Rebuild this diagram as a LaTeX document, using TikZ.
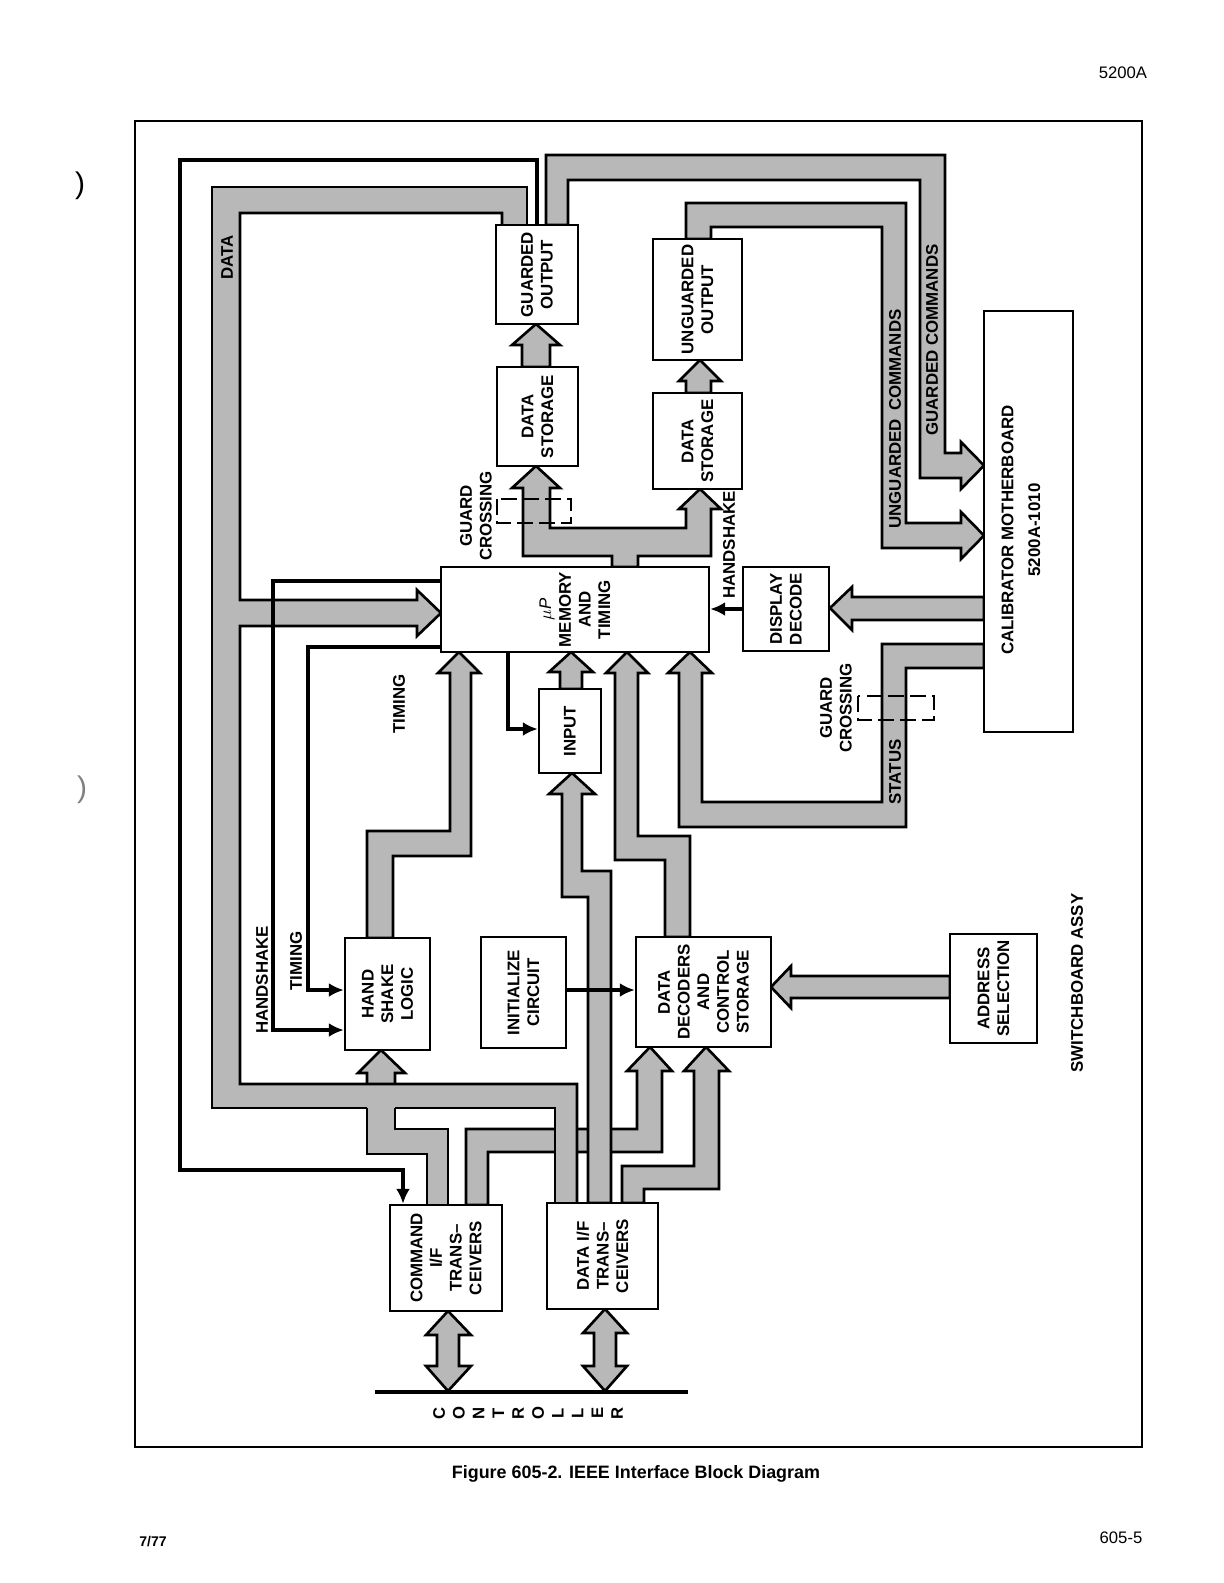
\documentclass[tikz,border=0pt]{standalone}
\usepackage{fontspec}
\setmainfont{Liberation Sans}
\usetikzlibrary{arrows.meta, fit}

\colorlet{busgray}{black!28}
\tikzset{
  blk/.style={draw, line width=1.4pt, fill=white, inner sep=0pt},
  txt/.style={font=\fontsize{9.6}{11.2}\selectfont\bfseries, rotate=90, align=center, inner sep=0pt},
  ctl/.style={font=\fontsize{9.5}{10}\selectfont\bfseries, rotate=90, inner sep=0pt},
  bus/.style={draw, fill=busgray, line width=1.5pt, line join=miter},
  busedge/.style={draw, line width=1.5pt, line join=miter},
  sig/.style={line width=1.9pt, -{Latex[length=0.3cm, width=0.28cm]}},
  guard/.style={draw, line width=1.2pt, dash pattern=on 9pt off 3.5pt},
}

\begin{document}
\begin{tikzpicture}[x=0.02cm, y=-0.02cm]
\useasboundingbox (0,0) rectangle (1224,1583);

% Marco
\draw[line width=1.4pt] (135,121) rectangle (1142,1447);

% Buses que pasan por debajo
\draw[bus] (466,1205) -- (466,1129) -- (637,1129) -- (637,1071) -- (627,1071) -- (650,1047) -- (672,1071) -- (662,1071) -- (662,1152) -- (488,1152) -- (488,1205) -- cycle;
\draw[bus] (622,1203) -- (622,1166) -- (694,1166) -- (694,1071) -- (684,1071) -- (706,1047) -- (729,1071) -- (719,1071) -- (719,1189) -- (644,1189) -- (644,1203) -- cycle;

% Bus DATA
\fill[busgray] (502,225) -- (502,213) -- (240,213) -- (240,600) -- (417,600) -- (417,590) -- (441,613) -- (417,636) -- (417,626) -- (240,626) -- (240,1084) -- (577,1084) -- (577,1203) -- (555,1203) -- (555,1108) -- (212,1108) -- (212,187) -- (527,187) -- (527,225) -- cycle;
\fill[busgray] (427,1205) -- (427,1154) -- (367,1154) -- (367,1100) -- (395,1100) -- (395,1129) -- (448,1129) -- (448,1205) -- cycle;
\fill[busgray] (367,1090) -- (367,1073) -- (358,1073) -- (381,1050) -- (405,1073) -- (395,1073) -- (395,1090) -- cycle;
\draw[busedge] (527,225) -- (527,187) -- (212,187) -- (212,1108) -- (367,1108);
\draw[busedge] (395,1108) -- (555,1108) -- (555,1203);
\draw[busedge] (502,225) -- (502,213) -- (240,213) -- (240,600) -- (417,600) -- (417,590) -- (441,613) -- (417,636) -- (417,626) -- (240,626) -- (240,1084) -- (577,1084) -- (577,1203);
\draw[busedge] (427,1205) -- (427,1154) -- (367,1154) -- (367,1108);
\draw[busedge] (395,1108) -- (395,1129) -- (448,1129) -- (448,1205);
\draw[busedge] (367,1084) -- (367,1073) -- (358,1073) -- (381,1050) -- (405,1073) -- (395,1073) -- (395,1084);

% Buses de comandos
\draw[bus] (546,225) -- (546,155) -- (945,155) -- (945,453) -- (961,453) -- (961,442) -- (984,465.5) -- (961,489) -- (961,478) -- (920,478) -- (920,180) -- (568,180) -- (568,225) -- cycle;
\draw[bus] (686,239) -- (686,203) -- (906,203) -- (906,523) -- (961,523) -- (961,512) -- (984,535.5) -- (961,559) -- (961,548) -- (882,548) -- (882,227) -- (711,227) -- (711,239) -- cycle;

% Salidas
\draw[bus] (522,367) -- (522,345) -- (512,345) -- (536,324) -- (560,345) -- (550,345) -- (550,367) -- cycle;
\draw[bus] (686,393) -- (686,381) -- (679,381) -- (700,360) -- (721,381) -- (711,381) -- (711,393) -- cycle;
\draw[bus] (612,567) -- (612,556) -- (523,556) -- (523,488) -- (512,488) -- (536,466) -- (560,488) -- (550,488) -- (550,528) -- (686,528) -- (686,509) -- (679,509) -- (700,489) -- (721,509) -- (711,509) -- (711,556) -- (638,556) -- (638,567) -- cycle;

% Entradas al microprocesador
\draw[bus] (588,1203) -- (588,897) -- (562,897) -- (562,794) -- (549,794) -- (572,773) -- (595,794) -- (582,794) -- (582,871) -- (611,871) -- (611,1203) -- cycle;
\draw[bus] (560,689) -- (560,672) -- (549,672) -- (571,652) -- (593,672) -- (582,672) -- (582,689) -- cycle;
\draw[bus] (665,937) -- (665,860) -- (615,860) -- (615,673) -- (606,673) -- (627,652) -- (648,673) -- (638,673) -- (638,836) -- (690,836) -- (690,937) -- cycle;
\draw[bus] (984,644) -- (882,644) -- (882,802) -- (702,802) -- (702,673) -- (712,673) -- (690,652) -- (668,673) -- (679,673) -- (679,827) -- (906,827) -- (906,668) -- (984,668) -- cycle;
\draw[bus] (367,938) -- (367,831) -- (450,831) -- (450,673) -- (438,673) -- (459,652) -- (480,673) -- (471,673) -- (471,856) -- (393,856) -- (393,938) -- cycle;
\draw[bus] (984,597) -- (852,597) -- (852,587) -- (830,608) -- (852,630) -- (852,620) -- (984,620) -- cycle;
\draw[bus] (950,976) -- (791,976) -- (791,966) -- (771,987) -- (791,1008) -- (791,998) -- (950,998) -- cycle;

% Controlador
\coordinate (ctlL) at (375,1392);
\coordinate (ctlR) at (688,1392);
\draw[line width=2.6pt] (ctlL) -- (ctlR);
\draw[bus] (448,1311) -- (471,1335) -- (459,1335) -- (459,1366) -- (471,1366) -- (448,1391) -- (426,1366) -- (437,1366) -- (437,1335) -- (426,1335) -- cycle;
\draw[bus] (605,1309) -- (627,1333) -- (616,1333) -- (616,1366) -- (627,1366) -- (605,1391) -- (583,1366) -- (594,1366) -- (594,1333) -- (583,1333) -- cycle;
\foreach \c [count=\i from 0] in {C,O,N,T,R,O,L,L,E,R}
  \node[ctl] (ctl\i) at ({439+19.8*\i},1413) {\c};

% Bloques
\node[blk, fit={(496,225) (578,324)}] (go) {};
\node[blk, fit={(497,367) (578,466)}] (dsg) {};
\node[blk, fit={(653,239) (742,360)}] (uo) {};
\node[blk, fit={(653,393) (742,489)}] (dsu) {};
\node[blk, fit={(441,567) (709,652)}] (mem) {};
\node[blk, fit={(743,567) (829,651)}] (dd) {};
\node[blk, fit={(984,311) (1073,732)}] (mb) {};
\node[blk, fit={(539,689) (601,773)}] (inp) {};
\node[blk, fit={(345,938) (430,1050)}] (hsl) {};
\node[blk, fit={(481,937) (566,1048)}] (ic) {};
\node[blk, fit={(636,937) (771,1047)}] (ddc) {};
\node[blk, fit={(950,934) (1037,1043)}] (adr) {};
\node[blk, fit={(390,1205) (502,1311)}] (cif) {};
\node[blk, fit={(547,1203) (658,1309)}] (dif) {};

\node[txt] (goT) at (go) {GUARDED\\OUTPUT};
\node[txt] (dsgT) at (dsg) {DATA\\STORAGE};
\node[txt] (uoT) at (uo) {UNGUARDED\\OUTPUT};
\node[txt] (dsuT) at (dsu) {DATA\\STORAGE};
\node[txt] (memT) at (mem) {{\mdseries\itshape$\mu$P}\\MEMORY\\AND\\TIMING};
\node[txt] (ddT) at (dd) {DISPLAY\\DECODE};
\node[txt] (mbT) at (1021,530) {CALIBRATOR MOTHERBOARD\\[4pt]5200A-1010};
\node[txt] (inpT) at (inp) {INPUT};
\node[txt] (hslT) at (hsl) {HAND\\SHAKE\\LOGIC};
\node[txt] (icT) at (ic) {INITIALIZE\\CIRCUIT};
\node[txt] (ddcT) at (ddc) {DATA\\DECODERS\\AND\\CONTROL\\STORAGE};
\node[txt] (adrT) at (adr) {ADDRESS\\SELECTION};
\node[txt] (cifT) at (cif) {COMMAND\\I/F\\TRANS–\\CEIVERS};
\node[txt] (difT) at (dif) {DATA I/F\\TRANS–\\CEIVERS};

% Cruces de guarda
\draw[guard] (497,499) rectangle (571,523);
\draw[guard] (858,696) rectangle (934,720);

% Lineas de control
\draw[sig] (go.north) |- (180,160) -- (180,1170) -| (cif.north -| 403,0);
\draw[sig] (mem.west |- 0,581) -| (273,1030) -- (hsl.west |- 0,1030);
\draw[sig] (mem.west |- 0,647) -| (308,990) -- (hsl.west |- 0,990);
\draw[sig] (mem.south -| 508,0) |- (inp.west |- 0,729);
\draw[sig] (dd.west |- 0,609) -- (mem.east |- 0,609);
\draw[sig] (ic.east |- 0,990) -- (ddc.west |- 0,990);

% Rotulos
\node[txt] (dataL) at (227,257) {DATA};
\node[txt] (gc1L) at (476,516) {GUARD\\CROSSING};
\node[txt] (hs1L) at (729,545) {HANDSHAKE};
\node[txt] (gcmdL) at (932,340) {GUARDED COMMANDS};
\node[txt] (ucmdL) at (895,419) {UNGUARDED\enspace COMMANDS};
\node[txt] (tim1L) at (399,704) {TIMING};
\node[txt] (hs2L) at (262,980) {HANDSHAKE};
\node[txt] (tim2L) at (296,961) {TIMING};
\node[txt] (gc2L) at (836,708) {GUARD\\CROSSING};
\node[txt] (statL) at (895,772) {STATUS};
\node[txt] (swL) at (1077,983) {SWITCHBOARD ASSY};

% Pagina
\node[font=\fontsize{9.5}{11}\selectfont] (pgL) at (1123,73) {5200A};
\node[font=\fontsize{10.2}{12}\selectfont\bfseries] (capL) at (636,1474) {Figure 605-2. IEEE Interface Block Diagram};
\node[font=\fontsize{8}{10}\selectfont\bfseries] (dateL) at (153,1542) {7/77};
\node[font=\fontsize{9.5}{11}\selectfont] (pnoL) at (1121,1538) {605-5};
\node[font=\fontsize{17}{17}\selectfont] (mk1) at (80,186) {)};
\node[font=\fontsize{17}{17}\selectfont, text=black!50] (mk2) at (82,790) {)};

\end{tikzpicture}
\end{document}
